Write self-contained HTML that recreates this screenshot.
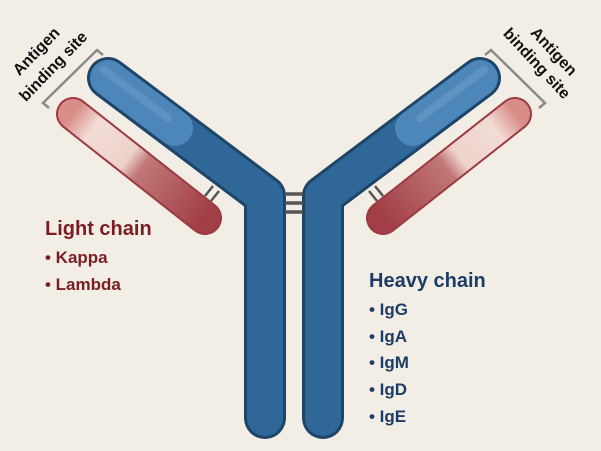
<!DOCTYPE html>
<html><head><meta charset="utf-8"><style>
html,body{margin:0;padding:0;background:#f2eee5;}
svg{display:block}
text{font-family:"Liberation Sans",sans-serif;}
</style></head><body>
<svg width="601" height="451" viewBox="0 0 601 451" xmlns="http://www.w3.org/2000/svg">
<defs>
<linearGradient id="lc" gradientUnits="userSpaceOnUse" x1="72" y1="115" x2="205" y2="218">
<stop offset="0" stop-color="#d98d88"/><stop offset="0.15" stop-color="#f3dcd6"/><stop offset="0.42" stop-color="#eed2cc"/><stop offset="0.52" stop-color="#c07876"/><stop offset="1" stop-color="#a23e46"/>
</linearGradient>
</defs>
<rect width="601" height="451" fill="#f2eee5"/>
<g id="half">
  <polyline points="108,78 265,196 265,418" fill="none" stroke="#1e4468" stroke-width="42" stroke-linecap="round" stroke-linejoin="round"/>
  <polyline points="108,78 265,196 265,418" fill="none" stroke="#2f6898" stroke-width="36" stroke-linecap="round" stroke-linejoin="round"/>
  <line x1="108" y1="78" x2="175" y2="128" stroke="#4d86b8" stroke-width="36" stroke-linecap="round"/>
  <line x1="104" y1="70" x2="168" y2="118" stroke="#6a9cc8" stroke-width="8" stroke-linecap="round" opacity="0.6"/>
  <line x1="205" y1="196" x2="213" y2="186" stroke="#555" stroke-width="2.5"/>
  <line x1="211" y1="201" x2="219" y2="191" stroke="#555" stroke-width="2.5"/>
  <line x1="73" y1="114" x2="205" y2="218" stroke="#9c3a40" stroke-width="34" stroke-linecap="round"/>
  <line x1="73" y1="114" x2="205" y2="218" stroke="url(#lc)" stroke-width="30" stroke-linecap="round"/>
  <polyline points="49,108 43,103 97,50 103,55" fill="none" stroke="#8a8a8a" stroke-width="2.5"/>
</g>
<use href="#half" transform="translate(588,0) scale(-1,1)"/>
<g stroke="#555" stroke-width="3.5">
  <line x1="285" y1="194" x2="303" y2="194"/>
  <line x1="285" y1="203" x2="303" y2="203"/>
  <line x1="285" y1="212" x2="303" y2="212"/>
</g>
<g font-weight="bold" font-size="16" fill="#111" text-anchor="middle">
  <text transform="translate(40,55) rotate(-46)">Antigen</text>
  <text transform="translate(57,70) rotate(-46)">binding site</text>
  <text transform="translate(550,55) rotate(47)">Antigen</text>
  <text transform="translate(533,67) rotate(47)">binding site</text>
</g>
<g fill="#7a1e24" font-weight="bold">
  <text x="45" y="235" font-size="20">Light chain</text>
  <text x="45" y="263" font-size="17">• Kappa</text>
  <text x="45" y="290" font-size="17">• Lambda</text>
</g>
<g fill="#1d3d66" font-weight="bold">
  <text x="369" y="287" font-size="20">Heavy chain</text>
  <text x="369" y="315" font-size="17">• IgG</text>
  <text x="369" y="342" font-size="17">• IgA</text>
  <text x="369" y="368" font-size="17">• IgM</text>
  <text x="369" y="395" font-size="17">• IgD</text>
  <text x="369" y="422" font-size="17">• IgE</text>
</g>
</svg>
</body></html>
